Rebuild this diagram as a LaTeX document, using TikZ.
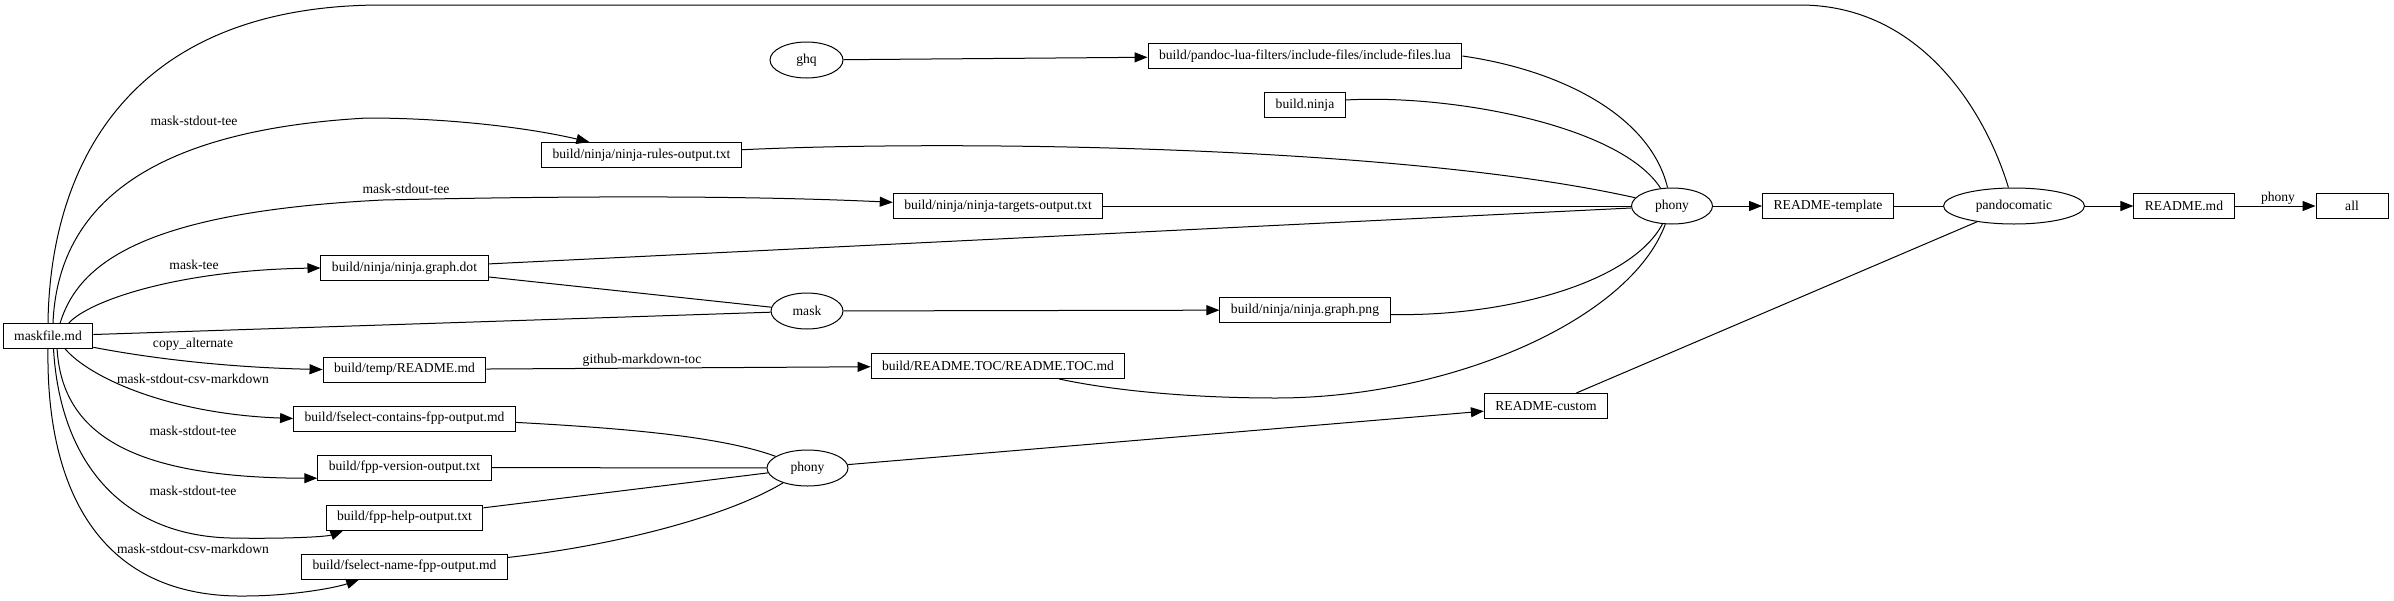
\documentclass[tikz,border=0pt]{standalone}
\usepackage{fontspec}
\setmainfont{Liberation Serif}
\usetikzlibrary{arrows.meta,shapes.geometric}

\begin{document}
\begin{tikzpicture}[x = 1pt, y = -1pt, line width = 1pt,
	>={Triangle[length = 13pt, width = 10pt]},
	font = \fontsize{13.6}{16}\selectfont,
	file/.style = {draw = black, shape = rectangle,
				   minimum height = 25pt, inner xsep = 11pt, inner ysep = 0pt},
	rule/.style = {draw = black, shape = ellipse,
				   minimum height = 36pt, inner sep = 0pt},
	lbl/.style = {inner sep = 0pt}]

	\useasboundingbox (0,0) rectangle (2394,600);

	% files
	\draw (48,336) node[file] (MF) {maskfile.md};
	\draw (641.5,155) node[file] (RULES) {build/ninja/ninja-rules-output.txt};
	\draw (998,206) node[file] (TARGETS) {build/ninja/ninja-targets-output.txt};
	\draw (404.5,268) node[file] (DOT) {build/ninja/ninja.graph.dot};
	\draw (404.5,369.5) node[file] (TEMP) {build/temp/README.md};
	\draw (404.5,418.5) node[file] (FCONT) {build/fselect-contains-fpp-output.md};
	\draw (404.5,467.5) node[file] (FVER) {build/fpp-version-output.txt};
	\draw (404.5,517.5) node[file] (FHELP) {build/fpp-help-output.txt};
	\draw (404.5,566.5) node[file] (FNAME) {build/fselect-name-fpp-output.md};
	\draw (1305,56) node[file] (LUA) {build/pandoc-lua-filters/include-files/include-files.lua};
	\draw (1305,105) node[file] (BN) {build.ninja};
	\draw (1305,310) node[file] (PNG) {build/ninja/ninja.graph.png};
	\draw (998,366) node[file] (TOC) {build/README.TOC/README.TOC.md};
	\draw (1828,206) node[file] (TPL) {README-template};
	\draw (1546,406) node[file] (CUS) {README-custom};
	\draw (2184,206) node[file] (RMD) {README.md};
	\draw (2352,206) node[file, minimum width = 72pt] (ALL) {all};

	% rules
	\draw (806.5,60) node[rule, minimum width = 73pt] (GHQ) {ghq};
	\draw (807,311) node[rule, minimum width = 72pt] (MASK) {mask};
	\draw (1672,206) node[rule, minimum width = 81pt] (PH1) {phony};
	\draw (807.5,468) node[rule, minimum width = 81pt] (PH2) {phony};
	\draw (2014,206) node[rule, minimum width = 141pt] (PC) {pandocomatic};

	% edge labels
	\draw (194,121) node[lbl] (L1) {mask-stdout-tee};
	\draw (406,189) node[lbl] (L2) {mask-stdout-tee};
	\draw (194,265) node[lbl] (L3) {mask-tee};
	\draw (193,344) node[lbl] (L4) {copy\_alternate};
	\draw (193,379) node[lbl] (L5) {mask-stdout-csv-markdown};
	\draw (193,431) node[lbl] (L6) {mask-stdout-tee};
	\draw (193,491) node[lbl] (L7) {mask-stdout-tee};
	\draw (193,549) node[lbl] (L8) {mask-stdout-csv-markdown};
	\draw (642,360) node[lbl] (L9) {github-markdown-toc};
	\draw (2278,198) node[lbl] (L10) {phony};

	% maskfile.md outputs
	\draw[->] (MF.69) .. controls (58,205) and (150,130) .. (367,118)
			.. controls (450,118) and (530,128) .. (RULES.166);
	\draw[->] (MF.47) .. controls (78,265) and (140,212) .. (383,200)
			.. controls (650,194) and (800,198) .. (TARGETS.178);
	\draw[->] (MF.32) .. controls (90,300) and (180,270) .. (DOT.west);
	\draw[->] (MF.-14) .. controls (170,362) and (250,368) .. (TEMP.west);
	\draw[->] (MF.-37) .. controls (90,378) and (170,414) .. (FCONT.west);
	\draw[->] (MF.-55) .. controls (62,430) and (125,478) .. (FVER.187);
	\draw[->] (MF.-67) .. controls (60,460) and (120,535) .. (230,538)
			.. controls (280,539) and (326,537) .. (FHELP.192);
	\draw[->] (MF.south) .. controls (46,490) and (100,598) .. (245,596)
			.. controls (290,596) and (335,588) .. (FNAME.196);
	\draw (MF.north) .. controls (50,170) and (125,6) .. (380,5)
			-- (1800,5) .. controls (1920,5) and (1985,110) .. (PC);

	% mask
	\draw (MF) -- (MASK);
	\draw (DOT) -- (MASK);
	\draw[->] (MASK) -- (PNG);

	\draw[->] (TEMP) -- (TOC);
	\draw[->] (GHQ) -- (LUA);

	% upper phony
	\draw (LUA.east) .. controls (1560,70) and (1650,115) .. (PH1);
	\draw (BN.7) .. controls (1450,94) and (1620,125) .. (PH1);
	\draw (RULES.3) .. controls (950,140) and (1400,145) .. (PH1);
	\draw (TARGETS) -- (PH1);
	\draw (DOT) -- (PH1);
	\draw (PNG.-3) .. controls (1500,317) and (1630,285) .. (PH1);
	\draw (TOC.-12) .. controls (1120,392) and (1200,398) .. (1276,398)
			.. controls (1450,398) and (1630,320) .. (PH1);
	\draw[->] (PH1) -- (TPL);

	% lower phony
	\draw (FCONT.-2) .. controls (620,428) and (720,436) .. (PH2);
	\draw (FVER) -- (PH2);
	\draw (FHELP) -- (PH2);
	\draw (FNAME.5) .. controls (620,545) and (730,515) .. (PH2);
	\draw[->] (PH2) -- (CUS);

	% pandocomatic
	\draw (TPL) -- (PC);
	\draw (CUS) -- (PC);
	\draw[->] (PC) -- (RMD);
	\draw[->] (RMD) -- (ALL);
\end{tikzpicture}
\end{document}
